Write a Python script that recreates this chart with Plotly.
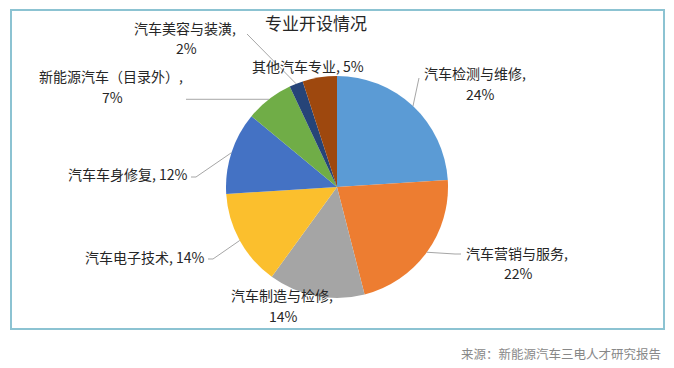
import math
import plotly.graph_objects as go

# ---- data ----
categories = ["汽车检测与维修", "汽车营销与服务", "汽车制造与检修", "汽车电子技术",
              "汽车车身修复", "新能源汽车（目录外）", "汽车美容与装潢", "其他汽车专业"]
values = [24, 22, 14, 14, 12, 7, 2, 5]
colors = ["#5B9BD5", "#ED7D31", "#A5A5A5", "#FBBF2D",
          "#4472C4", "#70AD47", "#264478", "#9E480E"]
title_text = "专业开设情况"
source_text = "来源：新能源汽车三电人才研究报告"

W, H = 674, 368
CX, CY, R = 337, 187, 111   # pie centre / radius in px

def px(x, y):
    return x / W, 1 - y / H

def edge_point(i):
    total = sum(values)
    start = sum(values[:i]) / total
    mid = (start + values[i] / total / 2) * 2 * math.pi
    return CX + R * math.sin(mid), CY - R * math.cos(mid)

FONT = "Noto Sans CJK SC, Noto Sans, sans-serif"
TXT = "#262626"

fig = go.Figure(go.Pie(
    labels=categories, values=values, sort=False, direction="clockwise",
    rotation=0, textinfo="none", hoverinfo="skip",
    marker=dict(colors=colors, line=dict(width=0)),
    domain=dict(x=[(CX - R) / W, (CX + R) / W], y=[1 - (CY + R) / H, 1 - (CY - R) / H]),
    showlegend=False,
))

# label layout: (index, name-line position, percent-line position or None)
label_specs = [
    (0, (477, 73, "center"), (480, 94)),
    (1, (518, 253, "center"), (518, 273)),
    (2, (283, 295, "center"), (283, 316)),
    (3, (207, 257, "right"), None),
    (4, (190, 174, "right"), None),
    (5, (112, 76, "center"), (112, 97)),
    (6, (187, 28, "center"), (187, 48)),
    (7, (308, 66, "center"), None),
]

annotations = []
for i, (x, y, anc), pct in label_specs:
    if pct is None:
        text = f"{categories[i]}, {values[i]}%"
    else:
        text = f"{categories[i]}, "
    ax, ay = px(x, y)
    annotations.append(dict(x=ax, y=ay, xref="paper", yref="paper", text=text,
                            showarrow=False, xanchor=anc, yanchor="middle",
                            font=dict(family=FONT, size=14, color=TXT)))
    if pct is not None:
        bx, by = px(*pct)
        annotations.append(dict(x=bx, y=by, xref="paper", yref="paper",
                                text=f"{values[i]}%", showarrow=False,
                                xanchor="center", yanchor="middle",
                                font=dict(family=FONT, size=14, color=TXT)))

tx, ty = px(316, 22)
annotations.append(dict(x=tx, y=ty, xref="paper", yref="paper", text=title_text,
                        showarrow=False, xanchor="center", yanchor="middle",
                        font=dict(family=FONT, size=17, color="#262626")))
sx, sy = px(663, 353)
annotations.append(dict(x=sx, y=sy, xref="paper", yref="paper", text=source_text,
                        showarrow=False, xanchor="right", yanchor="middle",
                        font=dict(family=FONT, size=12.5, color="#888888")))

# leader lines: from slice mid-angle edge to label (label-side points are layout)
leader_ends = {
    0: [(419, 78)],
    1: [(455, 254), (461, 254)],
    3: [(213, 259), (208, 259)],
    4: [(196, 177), (191, 177)],
    5: [(186, None)],
    6: [(247, 34)],
}
shapes = []
for i, pts in leader_ends.items():
    ex, ey = edge_point(i)
    path_pts = [(ex, ey)]
    for (lx, ly) in pts:
        path_pts.append((lx, ey if ly is None else ly))
    d = "M " + " L ".join(f"{px(a, b)[0]:.5f},{px(a, b)[1]:.5f}" for a, b in path_pts)
    shapes.append(dict(type="path", path=d, xref="paper", yref="paper",
                       line=dict(color="#A6A6A6", width=1)))

# frame
fx0, fy0 = px(11, 10)
fx1, fy1 = px(664, 329)
shapes.append(dict(type="rect", xref="paper", yref="paper", x0=fx0, y0=fy1, x1=fx1, y1=fy0,
                   line=dict(color="#8CC3D2", width=2), layer="below"))

fig.update_layout(width=W, height=H, margin=dict(l=0, r=0, t=0, b=0),
                  paper_bgcolor="white", plot_bgcolor="white",
                  annotations=annotations, shapes=shapes)

fig.write_html("out.html", config={"displayModeBar": False},
               post_script="document.body.style.margin='0px';"
                           "document.body.style.overflow='hidden';")
